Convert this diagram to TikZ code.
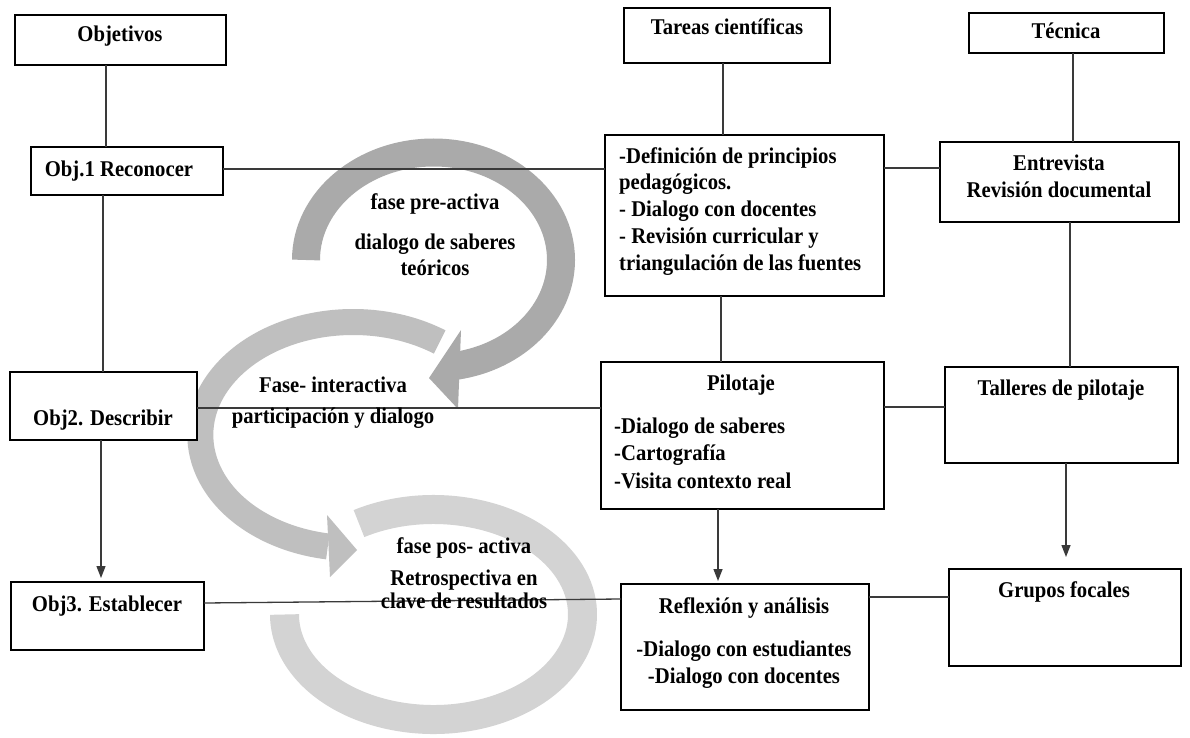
\documentclass[tikz,border=0pt]{standalone}
\usepackage{fontspec}
\setmainfont{Liberation Serif}[FakeStretch=0.92]
\usetikzlibrary{arrows.meta}
\definecolor{gA}{HTML}{AAAAAA}
\definecolor{gB}{HTML}{BFBFBF}
\definecolor{gC}{HTML}{D3D3D3}
\definecolor{lnc}{HTML}{3A3A3A}
\begin{document}
\begin{tikzpicture}[x=1pt,y=-1pt,
  box/.style={draw=black, line width=1.2pt, fill=white, inner sep=0pt, outer sep=0pt},
  txt/.style={font=\fontsize{22.5}{26.7}\selectfont\bfseries, inner sep=0pt},
  ph/.style={font=\fontsize{22.5}{26}\selectfont\bfseries, inner sep=0pt, align=center},
  ln/.style={draw=lnc, line width=1.3pt},
  arr/.style={ln, -{Triangle[length=12pt,width=9pt]}},
]
\useasboundingbox[fill=white] (0,0) rectangle (1190,738);

% phase arcs
\draw[gA, line width=28pt] (433.5,260) ++(180:127.5 and 107.5)
  arc[start angle=180, end angle=440, x radius=127.5, y radius=107.5];
\fill[gA] (461,330) -- (458,409) -- (429,378) -- cycle;
\draw[gB, line width=26pt] (353,435) ++(304.6:152.7 and 113)
  arc[start angle=304.6, end angle=99.5, x radius=152.7, y radius=113];
\fill[gB] (327,515) -- (330,577) -- (357,550) -- cycle;
\draw[gC, line width=29pt] (433.5,614.5) ++(240:149 and 105)
  arc[start angle=240, end angle=540, x radius=149, y radius=105];

% boxes
\node[box, minimum width=211, minimum height=50] (objt) at (120.5,40) {};
\node[box, minimum width=192, minimum height=48] (ob1) at (127,171) {};
\node[box, minimum width=187, minimum height=68] (ob2) at (103.5,406) {};
\node[box, minimum width=193, minimum height=68] (ob3) at (107.5,616) {};
\node[box, minimum width=206, minimum height=55] (tar) at (727,35.5) {};
\node[box, minimum width=195, minimum height=40] (tec) at (1066.5,33) {};
\node[box, minimum width=279, minimum height=161] (def) at (744.5,215.5) {};
\node[box, minimum width=239, minimum height=80] (ent) at (1059.5,182) {};
\node[box, minimum width=283, minimum height=147] (pil) at (742.5,435.5) {};
\node[box, minimum width=233, minimum height=96] (tal) at (1061.5,415) {};
\node[box, minimum width=248, minimum height=126] (ref) at (745,647) {};
\node[box, minimum width=232, minimum height=97] (gru) at (1065,617.5) {};

% helper coordinates
\coordinate (vA) at (106,0);  \coordinate (vB) at (103,0);  \coordinate (vC) at (101,0);
\coordinate (vD) at (723,0);  \coordinate (vE) at (721,0);  \coordinate (vF) at (718,0);
\coordinate (vG) at (1073,0); \coordinate (vH) at (1070,0); \coordinate (vI) at (1066,0);
\coordinate (hA) at (0,169);  \coordinate (hB) at (0,168);  \coordinate (hC) at (0,408);
\coordinate (hD) at (0,407);  \coordinate (hE) at (0,603);  \coordinate (hF) at (0,599);
\coordinate (hG) at (0,597);

% connectors
\draw[ln] (objt.south -| vA) -- (ob1.north -| vA);
\draw[ln] (ob1.south -| vB) -- (ob2.north -| vB);
\draw[arr, shorten >=4pt] (ob2.south -| vC) -- (ob3.north -| vC);
\draw[ln] (tar.south -| vD) -- (def.north -| vD);
\draw[ln] (def.south -| vE) -- (pil.north -| vE);
\draw[arr, shorten >=3pt] (pil.south -| vF) -- (ref.north -| vF);
\draw[ln] (tec.south -| vG) -- (ent.north -| vG);
\draw[ln] (ent.south -| vH) -- (tal.north -| vH);
\draw[arr, shorten >=12pt] (tal.south -| vI) -- (gru.north -| vI);
\draw[ln] (ob1.east |- hA) -- (def.west |- hA);
\draw[ln] (def.east |- hB) -- (ent.west |- hB);
\draw[ln] (ob2.east |- hC) -- (pil.west |- hC);
\draw[ln] (pil.east |- hD) -- (tal.west |- hD);
\draw[ln] (ob3.east |- hE) -- (ref.west |- hF);
\draw[ln] (ref.east |- hG) -- (gru.west |- hG);

% texts (multi-line nodes anchored at the baseline of their last line)
\node[txt, anchor=base] (tObj) at (120,42) {Objetivos};
\node[txt, anchor=base] (tO1) at (119,177) {Obj.1 Reconocer};
\node[txt, anchor=base] (tO2) at (103,425) {Obj2. Describir};
\node[txt, anchor=base] (tO3) at (107,611) {Obj3. Establecer};
\node[txt, anchor=base] (tTar) at (727,35) {Tareas científicas};
\node[txt, anchor=base] (tTec) at (1066,39) {Técnica};
\node[txt, anchor=base west, align=left] (tDef) at (619,270)
  {-Definición de principios\\pedagógicos.\\- Dialogo con docentes\\- Revisión curricular y\\triangulación de las fuentes};
\node[txt, anchor=base, align=center] (tEnt) at (1059,197) {Entrevista\\Revisión documental};
\node[txt, anchor=base] (tPil) at (741,390) {Pilotaje};
\node[txt, anchor=base west, align=left, font=\fontsize{22.5}{27.5}\selectfont\bfseries] (tPilL) at (614,488)
  {-Dialogo de saberes\\-Cartografía\\-Visita contexto real};
\node[txt, anchor=base] (tTal) at (1061,395) {Talleres de pilotaje};
\node[txt, anchor=base] (tRef) at (744,613) {Reflexión y análisis};
\node[txt, anchor=base, align=center] (tRefL) at (744,683) {-Dialogo con estudiantes\\-Dialogo con docentes};
\node[txt, anchor=base] (tGru) at (1064,597) {Grupos focales};

\node[ph, anchor=base] (pA) at (435,275) {fase pre-activa\\[14pt]dialogo de saberes\\teóricos};
\node[ph, anchor=base] (pB) at (333,423) {Fase- interactiva\\[5pt]participación y dialogo};
\node[ph, anchor=base] (pC) at (464,608) {fase pos- activa\\[6pt]Retrospectiva en\\[-3pt]clave de resultados};
\end{tikzpicture}
\end{document}
